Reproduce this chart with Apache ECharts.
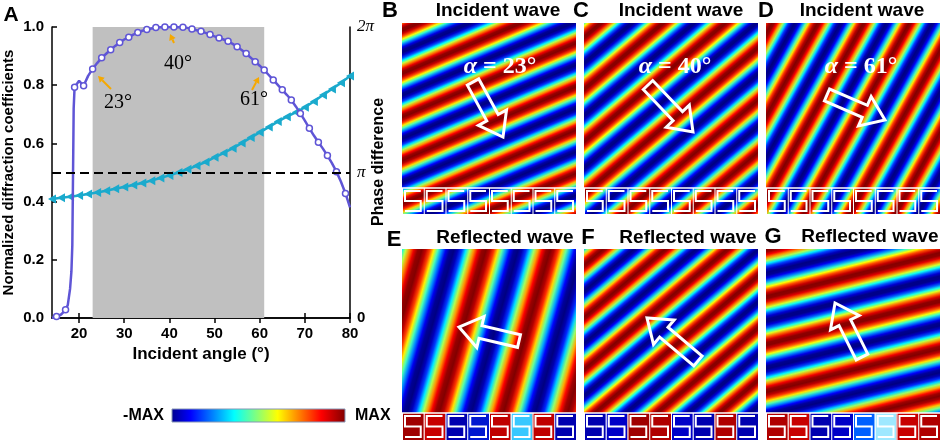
<!DOCTYPE html>
<html>
<head>
<meta charset="utf-8">
<title>Diffraction coefficients</title>
<script src="https://cdn.jsdelivr.net/npm/echarts@6.0.0/dist/echarts.min.js"></script>
<style>
  html, body { margin: 0; padding: 0; background: #fff; }
  #chart { width: 941px; height: 444px; }
</style>
</head>
<body>
<div id="chart"></div>
<script>
// ---- data ----
const purpleAngles = [14, 15, 16, 17, 17.5, 18, 18.3, 18.5, 18.7, 18.8,
    19, 20, 21, 22, 23, 24, 25, 26, 27, 28, 29, 30, 31, 32, 33, 34, 35, 36, 37, 38, 39, 40,
    41, 42, 43, 44, 45, 46, 47, 48, 49, 50, 51, 52, 53, 54, 55, 56, 57, 58, 59, 60,
    61, 62, 63, 64, 65, 66, 67, 68, 69, 70, 71, 72, 73, 74, 75, 76, 77, 78, 79, 80];
const purpleCoef = [0.000, 0.005, 0.012, 0.028, 0.045, 0.100, 0.160, 0.250, 0.560, 0.720,
    0.793, 0.815, 0.798, 0.832, 0.856, 0.876, 0.894, 0.908, 0.922, 0.935, 0.947, 0.957, 0.965, 0.974, 0.981, 0.987, 0.991, 0.995, 0.998, 0.999, 1.000, 1.000,
    1.000, 0.999, 0.999, 0.997, 0.993, 0.989, 0.985, 0.980, 0.974, 0.968, 0.962, 0.957, 0.951, 0.942, 0.932, 0.921, 0.909, 0.895, 0.881, 0.867,
    0.852, 0.835, 0.818, 0.801, 0.784, 0.767, 0.749, 0.727, 0.703, 0.678, 0.652, 0.627, 0.604, 0.582, 0.558, 0.532, 0.503, 0.468, 0.428, 0.380];

// phase difference, in units of pi
const cyanAngles = [14, 16, 18, 20, 22, 24, 26, 28, 30, 32, 34, 36, 38, 40, 42, 44, 46,
    48, 50, 52, 54, 56, 58, 60, 62, 64, 66, 68, 70, 72, 74, 76, 78, 80];
const cyanPhase = [0.818, 0.826, 0.834, 0.842, 0.852, 0.862, 0.874, 0.888, 0.900, 0.914, 0.928, 0.944, 0.962, 0.980, 1.000, 1.022, 1.046,
    1.072, 1.104, 1.134, 1.166, 1.202, 1.240, 1.276, 1.312, 1.350, 1.384, 1.414, 1.448, 1.488, 1.532, 1.574, 1.616, 1.664];

const xTicks = [20, 30, 40, 50, 60, 70, 80];
const phaseTicks = [0, 1, 2];
const phaseLabels = ['0', 'π', '2π'];
const shadeRange = [23, 61];
const piLevel = 0.5;

const purple = '#5f55d6';
const cyan = '#1aaacd';
const font = '"Liberation Sans", Arial, sans-serif';
const serif = '"Liberation Serif", "Times New Roman", serif';

// ---- helpers for the field pictures ----
function jetColor(t) {
    const c = v => Math.round(255 * Math.min(1, Math.max(0, v)));
    return 'rgb(' + c(1.5 - Math.abs(4 * t - 3)) + ',' + c(1.5 - Math.abs(4 * t - 2)) + ',' + c(1.5 - Math.abs(4 * t - 1)) + ')';
}

function waveFill(x, y, w, h, ang, lam, rx, ry) {
    const a = ang * Math.PI / 180, dx = Math.cos(a), dy = Math.sin(a);
    const s = [[x, y], [x + w, y], [x, y + h], [x + w, y + h]].map(c => (c[0] - rx) * dx + (c[1] - ry) * dy);
    const s0 = Math.min.apply(null, s), s1 = Math.max.apply(null, s);
    const n = Math.ceil((s1 - s0) / (lam / 16));
    const stops = [];
    for (let i = 0; i <= n; i++) {
        const sv = s0 + (s1 - s0) * i / n;
        stops.push({ offset: i / n, color: jetColor((Math.cos(2 * Math.PI * sv / lam) + 1) / 2) });
    }
    return {
        type: 'linear', global: true,
        x: rx + dx * s0, y: ry + dy * s0, x2: rx + dx * s1, y2: ry + dy * s1,
        colorStops: stops
    };
}

function hollowArrow(x1, y1, x2, y2) {
    const L = Math.hypot(x2 - x1, y2 - y1);
    const ux = (x2 - x1) / L, uy = (y2 - y1) / L, nx = -uy, ny = ux;
    const sw = 6.5, hw = 16, hl = 22;
    const kx = x2 - ux * hl, ky = y2 - uy * hl;
    return {
        type: 'polygon', z: 20,
        shape: { points: [
            [x1 + nx * sw, y1 + ny * sw], [kx + nx * sw, ky + ny * sw], [kx + nx * hw, ky + ny * hw],
            [x2, y2], [kx - nx * hw, ky - ny * hw], [kx - nx * sw, ky - ny * sw], [x1 - nx * sw, y1 - ny * sw]
        ] },
        style: { fill: 'none', stroke: '#fff', lineWidth: 3, lineJoin: 'miter' }
    };
}

function orangeArrow(x1, y1, x2, y2) {
    const L = Math.hypot(x2 - x1, y2 - y1);
    const ux = (x2 - x1) / L, uy = (y2 - y1) / L, nx = -uy, ny = ux;
    const hl = 6, hw = 3.5;
    const kx = x2 - ux * hl, ky = y2 - uy * hl;
    return [
        { type: 'line', z: 30, shape: { x1: x1, y1: y1, x2: kx, y2: ky }, style: { stroke: '#f5a800', lineWidth: 2 } },
        { type: 'polygon', z: 30, shape: { points: [[x2, y2], [kx + nx * hw, ky + ny * hw], [kx - nx * hw, ky - ny * hw]] }, style: { fill: '#f5a800' } }
    ];
}

// squared "S" meander of one unit cell, drawn as white gaps
function cellGlyph(x, y, cw, ch) {
    const st = { stroke: '#fff', lineWidth: 2, fill: 'none' };
    const l = x + 3, r = x + cw - 3, t = y + 3, m = y + ch / 2, b = y + ch - 3;
    return [
        { type: 'polyline', z: 15, shape: { points: [[r, t], [l, t], [l, m], [r, m], [r, b], [l, b]] }, style: st },
        { type: 'polyline', z: 15, shape: { points: [[x + 0.5, y], [x + 0.5, y + ch]] }, style: { stroke: '#fff', lineWidth: 1, fill: 'none' } }
    ];
}

// layout of the field panels (B-G)
const panels = [
    { letter: 'B', title: 'Incident wave', x: 402, y: 23, w: 174, h: 165, sh: 26, ang: 67, lam: 40, rx: 402, ry: 30,
      lx: 390, ly: 11, tx: 498, ty: 11, alpha: '23°', ax: 500, ay: 67, arrow: [473, 82, 503, 137] },
    { letter: 'C', title: 'Incident wave', x: 584, y: 23, w: 174, h: 165, sh: 26, ang: 50, lam: 40, rx: 595, ry: 28,
      lx: 581, ly: 11, tx: 681, ty: 11, alpha: '40°', ax: 675, ay: 67, arrow: [648, 85, 693, 132] },
    { letter: 'D', title: 'Incident wave', x: 766, y: 23, w: 174, h: 165, sh: 26, ang: 29, lam: 40, rx: 770, ry: 27,
      lx: 766, ly: 11, tx: 862, ty: 11, alpha: '61°', ax: 861, ay: 67, arrow: [827, 95, 885, 120] },
    { letter: 'E', title: 'Reflected wave', x: 402, y: 249, w: 174, h: 164, sh: 27, ang: 16, lam: 62, rx: 416, ry: 266,
      lx: 394, ly: 240, tx: 505, ty: 238, arrow: [519, 341, 459, 327],
      cells: ['#a00000', '#c80000', '#0000b0', '#0018d0', '#c00000', '#38c8ff', '#c00000', '#0000b0'] },
    { letter: 'F', title: 'Reflected wave', x: 584, y: 249, w: 174, h: 164, sh: 27, ang: 50, lam: 40, rx: 595, ry: 256,
      lx: 588, ly: 238, tx: 688, ty: 238, arrow: [698, 361, 647, 318],
      cells: ['#0000b0', '#0000c8', '#a00000', '#b00000', '#0000c8', '#0000b0', '#b00000', '#0000b0'] },
    { letter: 'G', title: 'Reflected wave', x: 766, y: 249, w: 174, h: 164, sh: 27, ang: 76, lam: 46, rx: 766, ry: 297,
      lx: 773, ly: 237, tx: 870, ty: 237, arrow: [862, 357, 835, 303],
      cells: ['#b00000', '#c80000', '#0000b0', '#0000c8', '#0060ff', '#9fe8ff', '#c80000', '#b00000'] }
];

const graphic = [];
panels.forEach(function (p) {
    const incident = !p.cells;
    const fill = waveFill(p.x, p.y, p.w, p.h + p.sh, p.ang, p.lam, p.rx, p.ry);
    graphic.push({ type: 'rect', z: 10, shape: { x: p.x, y: p.y, width: p.w, height: incident ? p.h + p.sh : p.h }, style: { fill: fill } });
    const cw = p.w / 8;
    for (let i = 0; i < 8; i++) {
        const cx = p.x + i * cw;
        if (!incident) {
            graphic.push({ type: 'rect', z: 12, shape: { x: cx, y: p.y + p.h, width: cw, height: p.sh }, style: { fill: p.cells[i] } });
        }
        cellGlyph(cx, p.y + p.h, cw, p.sh).forEach(g => graphic.push(g));
    }
    graphic.push({ type: 'line', z: 15, shape: { x1: p.x, y1: p.y + p.h, x2: p.x + p.w, y2: p.y + p.h }, style: { stroke: '#fff', lineWidth: 1.5 } });
    graphic.push(hollowArrow.apply(null, p.arrow));
    graphic.push({ type: 'text', z: 20, x: p.lx, y: p.ly,
        style: { text: p.letter, font: 'bold 22px ' + font, fill: '#000', align: 'center', verticalAlign: 'middle', textAlign: 'center', textVerticalAlign: 'middle' } });
    graphic.push({ type: 'text', z: 20, x: p.tx, y: p.ty,
        style: { text: p.title, font: 'bold 19px ' + font, fill: '#000', align: 'center', verticalAlign: 'middle', textAlign: 'center', textVerticalAlign: 'middle' } });
    if (p.alpha) {
        graphic.push({ type: 'text', z: 20, x: p.ax, y: p.ay,
            style: {
                text: '{a|α}{b| = ' + p.alpha + '}', align: 'center', verticalAlign: 'middle', textAlign: 'center', textVerticalAlign: 'middle',
                rich: {
                    a: { font: 'italic bold 24px ' + serif, fill: '#fff' },
                    b: { font: 'bold 24px ' + serif, fill: '#fff' }
                }
            } });
    }
});

// colour bar
graphic.push({ type: 'rect', z: 10, shape: { x: 172, y: 409, width: 173, height: 13 },
    style: { stroke: '#8796b4', lineWidth: 1, fill: { type: 'linear', x: 0, y: 0, x2: 1, y2: 0, colorStops: [
        { offset: 0, color: '#00008f' }, { offset: 0.11, color: '#0000ff' }, { offset: 0.36, color: '#00ffff' },
        { offset: 0.61, color: '#ffff00' }, { offset: 0.86, color: '#ff0000' }, { offset: 1, color: '#800000' }] } } });
graphic.push({ type: 'text', z: 10, x: 164, y: 416, style: { text: '-MAX', font: 'bold 16px ' + font, fill: '#000', align: 'right', verticalAlign: 'middle', textAlign: 'right', textVerticalAlign: 'middle' } });
graphic.push({ type: 'text', z: 10, x: 355, y: 416, style: { text: 'MAX', font: 'bold 16px ' + font, fill: '#000', align: 'left', verticalAlign: 'middle', textAlign: 'left', textVerticalAlign: 'middle' } });

// panel A annotations
graphic.push({ type: 'text', z: 30, x: 11, y: 15, style: { text: 'A', font: 'bold 21px ' + font, fill: '#000', align: 'center', verticalAlign: 'middle', textAlign: 'center', textVerticalAlign: 'middle' } });
graphic.push({ type: 'text', z: 30, x: 379, y: 162, rotation: Math.PI / 2,
    style: { text: 'Phase difference', font: 'bold 16px ' + font, fill: '#000', align: 'center', verticalAlign: 'middle', textAlign: 'center', textVerticalAlign: 'middle' } });
[['23°', 118, 103], ['40°', 178, 64], ['61°', 254, 100]].forEach(function (l) {
    graphic.push({ type: 'text', z: 30, x: l[1], y: l[2], style: { text: l[0], font: '20px ' + serif, fill: '#000', align: 'center', verticalAlign: 'middle', textAlign: 'center', textVerticalAlign: 'middle' } });
});
orangeArrow(111, 89, 98, 76).forEach(g => graphic.push(g));
orangeArrow(174, 43, 170, 34).forEach(g => graphic.push(g));
orangeArrow(252, 90, 259, 77).forEach(g => graphic.push(g));

const chart = echarts.init(document.getElementById('chart'));

const axisLine = { show: true, lineStyle: { color: '#000', width: 1.5 } };
const tickStyle = { color: '#000', width: 1.5 };
const labelStyle = { color: '#000', fontWeight: 'bold', fontSize: 15, fontFamily: font };

const option = {
    animation: false,
    backgroundColor: '#fff',
    grid: { left: 52, top: 27, width: 298, height: 291, outerBoundsMode: 'none' },
    xAxis: [
        {
            type: 'value', min: 14, max: 80, position: 'bottom',
            axisLine: axisLine,
            axisTick: { show: true, inside: true, length: 5, customValues: xTicks, lineStyle: tickStyle },
            axisLabel: Object.assign({ customValues: xTicks, margin: 8 }, labelStyle),
            splitLine: { show: false },
            name: 'Incident angle (°)', nameLocation: 'middle', nameGap: 28,
            nameTextStyle: { color: '#000', fontWeight: 'bold', fontSize: 17, fontFamily: font }
        },
        {
            type: 'value', min: 14, max: 80, position: 'top',
            axisLine: axisLine,
            axisTick: { show: true, inside: true, length: 5, customValues: xTicks, lineStyle: tickStyle },
            axisLabel: { show: false },
            splitLine: { show: false }
        }
    ],
    yAxis: [
        {
            type: 'value', min: 0, max: 1, interval: 0.2, position: 'left',
            axisLine: axisLine,
            axisTick: { show: true, inside: true, length: 5, lineStyle: tickStyle },
            axisLabel: Object.assign({ margin: 8, formatter: v => v.toFixed(1) }, labelStyle),
            splitLine: { show: false },
            name: 'Normalized diffraction coefficients', nameLocation: 'middle', nameGap: 36, nameRotate: 90,
            nameTextStyle: { color: '#000', fontWeight: 'bold', fontSize: 15, fontFamily: font }
        },
        {
            type: 'value', min: 0, max: 2, interval: 1, position: 'right',
            axisLine: axisLine,
            axisTick: { show: false },
            axisLabel: {
                margin: 7,
                formatter: v => (v === 0 ? '{n|' : '{p|') + phaseLabels[phaseTicks.indexOf(v)] + '}',
                rich: {
                    n: { color: '#000', fontWeight: 'bold', fontSize: 15, fontFamily: font },
                    p: { color: '#000', fontStyle: 'italic', fontSize: 17, fontFamily: serif }
                }
            },
            splitLine: { show: false }
        }
    ],
    series: [
        {
            name: 'shade', type: 'line', data: [], z: 1, silent: true,
            markArea: { silent: true, itemStyle: { color: '#c0c0c0' }, data: [[{ xAxis: shadeRange[0] }, { xAxis: shadeRange[1] }]] },
            markLine: {
                silent: true, symbol: 'none', label: { show: false },
                lineStyle: { color: '#000', type: [9, 5], width: 1.8 },
                data: [{ yAxis: piLevel }]
            }
        },
        {
            name: 'Phase difference', type: 'line', xAxisIndex: 0, yAxisIndex: 1, z: 3,
            data: cyanAngles.map((a, i) => [a, cyanPhase[i]]),
            symbol: 'triangle', symbolRotate: 90, symbolSize: [9, 8],
            itemStyle: { color: cyan },
            lineStyle: { color: cyan, width: 2.5 }
        },
        {
            name: 'Diffraction coefficient', type: 'line', xAxisIndex: 0, yAxisIndex: 0, z: 4,
            data: purpleAngles.map((a, i) => [a, purpleCoef[i]]),
            symbol: function (value) { return value[0] % 2 === 1 ? 'circle' : 'none'; },
            symbolSize: 6,
            showAllSymbol: true,
            itemStyle: { color: '#fff', borderColor: purple, borderWidth: 1.5 },
            lineStyle: { color: purple, width: 2.5 }
        }
    ],
    graphic: graphic
};

chart.setOption(option);

window.addEventListener('resize', function () {
    chart.resize();
});
</script>
</body>
</html>
